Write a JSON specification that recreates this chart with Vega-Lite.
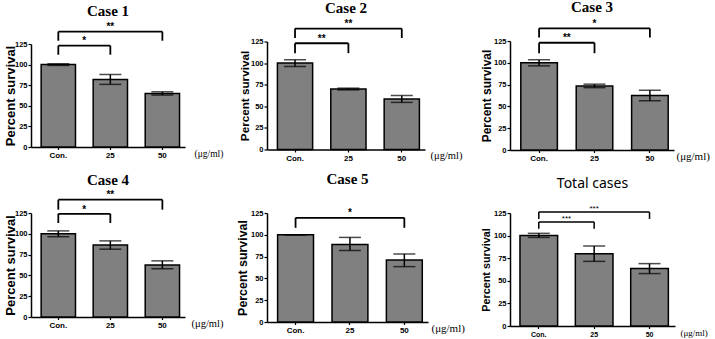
{
  "$schema": "https://vega.github.io/schema/vega-lite/v6.json",
  "background": "white",
  "padding": {"left": 3, "top": 0, "right": 0, "bottom": 0},
  "datasets": {
    "d": [
      {"c": "Case 1", "k": "b", "dose": "Con.", "mean": 100, "lo": 99, "hi": 101},
      {"c": "Case 1", "k": "b", "dose": "25", "mean": 82, "lo": 76, "hi": 88},
      {"c": "Case 1", "k": "b", "dose": "50", "mean": 65, "lo": 63, "hi": 67},
      {"c": "Case 1", "k": "k", "span": "short", "from": "Con.", "to": "25", "m": "25", "y": 123, "leg": 112, "sy": 124.5, "stars": "*"},
      {"c": "Case 1", "k": "k", "span": "long", "from": "Con.", "to": "50", "m": "25", "y": 140, "leg": 129, "sy": 141.5, "stars": "**"},

      {"c": "Case 2", "k": "b", "dose": "Con.", "mean": 100, "lo": 96, "hi": 104},
      {"c": "Case 2", "k": "b", "dose": "25", "mean": 70, "lo": 69, "hi": 71},
      {"c": "Case 2", "k": "b", "dose": "50", "mean": 58.5, "lo": 54.5, "hi": 62.5},
      {"c": "Case 2", "k": "k", "span": "short", "from": "Con.", "to": "25", "m": "25", "y": 123, "leg": 111.5, "sy": 124.5, "stars": "**"},
      {"c": "Case 2", "k": "k", "span": "long", "from": "Con.", "to": "50", "m": "25", "y": 140, "leg": 129, "sy": 141.5, "stars": "**"},

      {"c": "Case 3", "k": "b", "dose": "Con.", "mean": 100, "lo": 96.5, "hi": 103.5},
      {"c": "Case 3", "k": "b", "dose": "25", "mean": 73.5, "lo": 71.5, "hi": 75.5},
      {"c": "Case 3", "k": "b", "dose": "50", "mean": 62.5, "lo": 56.5, "hi": 68.5},
      {"c": "Case 3", "k": "k", "span": "short", "from": "Con.", "to": "25", "m": "25", "y": 123, "leg": 111, "sy": 124.5, "stars": "**"},
      {"c": "Case 3", "k": "k", "span": "long", "from": "Con.", "to": "50", "m": "25", "y": 139.5, "leg": 129, "sy": 141, "stars": "*"},

      {"c": "Case 4", "k": "b", "dose": "Con.", "mean": 100, "lo": 96.5, "hi": 103.5},
      {"c": "Case 4", "k": "b", "dose": "25", "mean": 86.5, "lo": 81.5, "hi": 91.5},
      {"c": "Case 4", "k": "b", "dose": "50", "mean": 62.5, "lo": 58, "hi": 67.5},
      {"c": "Case 4", "k": "k", "span": "short", "from": "Con.", "to": "25", "m": "25", "y": 124, "leg": 113, "sy": 125.5, "stars": "*"},
      {"c": "Case 4", "k": "k", "span": "long", "from": "Con.", "to": "50", "m": "25", "y": 141, "leg": 129, "sy": 142.5, "stars": "**"},

      {"c": "Case 5", "k": "b", "dose": "Con.", "mean": 100, "lo": 100, "hi": 100},
      {"c": "Case 5", "k": "b", "dose": "25", "mean": 89, "lo": 82, "hi": 97},
      {"c": "Case 5", "k": "b", "dose": "50", "mean": 71, "lo": 63.5, "hi": 78},
      {"c": "Case 5", "k": "k", "span": "long", "from": "Con.", "to": "50", "m": "25", "y": 119.5, "leg": 108, "sy": 121, "stars": "*"},

      {"c": "Total cases", "k": "b", "dose": "Con.", "mean": 100, "lo": 98, "hi": 102.5},
      {"c": "Total cases", "k": "b", "dose": "25", "mean": 80, "lo": 71.5, "hi": 88.5},
      {"c": "Total cases", "k": "b", "dose": "50", "mean": 63.5, "lo": 58, "hi": 69},
      {"c": "Total cases", "k": "k", "span": "short", "from": "Con.", "to": "25", "m": "25", "y": 115, "leg": 107.5, "sy": 116.5, "stars": "***"},
      {"c": "Total cases", "k": "k", "span": "long", "from": "Con.", "to": "50", "m": "25", "y": 126, "leg": 118.5, "sy": 127.5, "stars": "***"}
    ]
  },
  "data": {"name": "d"},
  "columns": 3,
  "bounds": "flush",
  "center": true,
  "spacing": {"column": 82, "row": 63},
  "concat": [
    {
      "title": {"text": "Case 1", "offset": 3},
      "width": 154, "height": 103,
      "transform": [{"filter": "datum.c === 'Case 1'"}],
      "layer": [
        {"transform": [{"filter": "datum.k === 'b'"}], "mark": {"type": "bar", "fill": "#808080", "stroke": "black", "strokeWidth": 1.5},
         "encoding": {"x": {"field": "dose", "type": "nominal", "sort": null, "scale": {"domain": ["Con.", "25", "50"], "paddingInner": 0.34, "paddingOuter": 0.15, "align": 0.65}, "axis": {"title": "(μg/ml)", "titleX": 163, "titleFontSize": 9.5}},
                      "y": {"field": "mean", "type": "quantitative", "scale": {"domain": [0, 125], "nice": false}, "axis": {"title": "Percent survival", "titleFontSize": 13, "titleX": -21, "titleBaseline": "middle", "titleAlign": "center", "labelOverlap": false, "tickCount": 10, "values": [0, 25, 50, 75, 100, 125]}}}},
        {"transform": [{"filter": "datum.k === 'b'"}], "mark": {"type": "rule", "strokeWidth": 1.5, "color": "black"}, "encoding": {"x": {"field": "dose", "type": "nominal"}, "y": {"field": "lo", "type": "quantitative"}, "y2": {"field": "hi"}}},
        {"transform": [{"filter": "datum.k === 'b'"}], "mark": {"type": "tick", "size": 22, "thickness": 1.5, "color": "black"}, "encoding": {"x": {"field": "dose", "type": "nominal"}, "y": {"field": "hi", "type": "quantitative"}}},
        {"transform": [{"filter": "datum.k === 'b'"}], "mark": {"type": "tick", "size": 22, "thickness": 1.5, "color": "black"}, "encoding": {"x": {"field": "dose", "type": "nominal"}, "y": {"field": "lo", "type": "quantitative"}}},
        {"transform": [{"filter": "datum.k === 'k'"}], "mark": {"type": "rule", "strokeWidth": 1.8, "color": "black"}, "encoding": {"x": {"field": "from", "type": "nominal", "bandPosition": 0.5}, "x2": {"field": "to", "bandPosition": 0.5}, "y": {"field": "y", "type": "quantitative"}}},
        {"transform": [{"filter": "datum.k === 'k'"}], "mark": {"type": "rule", "strokeWidth": 1.8, "color": "black"}, "encoding": {"x": {"field": "from", "type": "nominal"}, "y": {"field": "leg", "type": "quantitative"}, "y2": {"field": "y"}}},
        {"transform": [{"filter": "datum.k === 'k'"}], "mark": {"type": "rule", "strokeWidth": 1.8, "color": "black"}, "encoding": {"x": {"field": "to", "type": "nominal"}, "y": {"field": "leg", "type": "quantitative"}, "y2": {"field": "y"}}},
        {"transform": [{"filter": "datum.k === 'k' && datum.span === 'long'"}], "mark": {"type": "text", "fontWeight": "bold", "fontSize": 10, "baseline": "alphabetic", "color": "black"}, "encoding": {"x": {"field": "m", "type": "nominal", "bandPosition": 0.5}, "y": {"field": "sy", "type": "quantitative"}, "text": {"field": "stars"}}},
        {"transform": [{"filter": "datum.k === 'k' && datum.span === 'short'"}], "mark": {"type": "text", "fontWeight": "bold", "fontSize": 10, "baseline": "alphabetic", "color": "black"}, "encoding": {"x": {"field": "m", "type": "nominal", "bandPosition": -0.258}, "y": {"field": "sy", "type": "quantitative"}, "text": {"field": "stars"}}}
      ]
    },
    {
      "title": {"text": "Case 2", "offset": 3},
      "width": 158, "height": 108,
      "transform": [{"filter": "datum.c === 'Case 2'"}],
      "layer": [
        {"transform": [{"filter": "datum.k === 'b'"}], "mark": {"type": "bar", "fill": "#808080", "stroke": "black", "strokeWidth": 1.5},
         "encoding": {"x": {"field": "dose", "type": "nominal", "sort": null, "scale": {"domain": ["Con.", "25", "50"], "paddingInner": 0.34, "paddingOuter": 0.15, "align": 0.65}, "axis": {"title": "(μg/ml)", "titleX": 163, "titleFontSize": 10.5}},
                      "y": {"field": "mean", "type": "quantitative", "scale": {"domain": [0, 125], "nice": false}, "axis": {"title": "Percent survival", "titleFontSize": 11.7, "titleX": -22.5, "titleBaseline": "middle", "titleAlign": "center", "labelOverlap": false, "tickCount": 10, "values": [0, 25, 50, 75, 100, 125]}}}},
        {"transform": [{"filter": "datum.k === 'b'"}], "mark": {"type": "rule", "strokeWidth": 1.5, "color": "black"}, "encoding": {"x": {"field": "dose", "type": "nominal"}, "y": {"field": "lo", "type": "quantitative"}, "y2": {"field": "hi"}}},
        {"transform": [{"filter": "datum.k === 'b'"}], "mark": {"type": "tick", "size": 22, "thickness": 1.5, "color": "black"}, "encoding": {"x": {"field": "dose", "type": "nominal"}, "y": {"field": "hi", "type": "quantitative"}}},
        {"transform": [{"filter": "datum.k === 'b'"}], "mark": {"type": "tick", "size": 22, "thickness": 1.5, "color": "black"}, "encoding": {"x": {"field": "dose", "type": "nominal"}, "y": {"field": "lo", "type": "quantitative"}}},
        {"transform": [{"filter": "datum.k === 'k'"}], "mark": {"type": "rule", "strokeWidth": 1.8, "color": "black"}, "encoding": {"x": {"field": "from", "type": "nominal", "bandPosition": 0.5}, "x2": {"field": "to", "bandPosition": 0.5}, "y": {"field": "y", "type": "quantitative"}}},
        {"transform": [{"filter": "datum.k === 'k'"}], "mark": {"type": "rule", "strokeWidth": 1.8, "color": "black"}, "encoding": {"x": {"field": "from", "type": "nominal"}, "y": {"field": "leg", "type": "quantitative"}, "y2": {"field": "y"}}},
        {"transform": [{"filter": "datum.k === 'k'"}], "mark": {"type": "rule", "strokeWidth": 1.8, "color": "black"}, "encoding": {"x": {"field": "to", "type": "nominal"}, "y": {"field": "leg", "type": "quantitative"}, "y2": {"field": "y"}}},
        {"transform": [{"filter": "datum.k === 'k' && datum.span === 'long'"}], "mark": {"type": "text", "fontWeight": "bold", "fontSize": 10, "baseline": "alphabetic", "color": "black"}, "encoding": {"x": {"field": "m", "type": "nominal", "bandPosition": 0.5}, "y": {"field": "sy", "type": "quantitative"}, "text": {"field": "stars"}}},
        {"transform": [{"filter": "datum.k === 'k' && datum.span === 'short'"}], "mark": {"type": "text", "fontWeight": "bold", "fontSize": 10, "baseline": "alphabetic", "color": "black"}, "encoding": {"x": {"field": "m", "type": "nominal", "bandPosition": -0.258}, "y": {"field": "sy", "type": "quantitative"}, "text": {"field": "stars"}}}
      ]
    },
    {
      "title": {"text": "Case 3", "offset": 4},
      "width": 164, "height": 109,
      "transform": [{"filter": "datum.c === 'Case 3'"}],
      "layer": [
        {"transform": [{"filter": "datum.k === 'b'"}], "mark": {"type": "bar", "fill": "#808080", "stroke": "black", "strokeWidth": 1.5},
         "encoding": {"x": {"field": "dose", "type": "nominal", "sort": null, "scale": {"domain": ["Con.", "25", "50"], "paddingInner": 0.34, "paddingOuter": 0.15, "align": 0.65}, "axis": {"title": "(μg/ml)", "titleX": 166, "titleFontSize": 11}},
                      "y": {"field": "mean", "type": "quantitative", "scale": {"domain": [0, 125], "nice": false}, "axis": {"title": "Percent survival", "titleFontSize": 12, "titleX": -24, "titleBaseline": "middle", "titleAlign": "center", "labelOverlap": false, "tickCount": 10, "values": [0, 25, 50, 75, 100, 125]}}}},
        {"transform": [{"filter": "datum.k === 'b'"}], "mark": {"type": "rule", "strokeWidth": 1.5, "color": "black"}, "encoding": {"x": {"field": "dose", "type": "nominal"}, "y": {"field": "lo", "type": "quantitative"}, "y2": {"field": "hi"}}},
        {"transform": [{"filter": "datum.k === 'b'"}], "mark": {"type": "tick", "size": 22, "thickness": 1.5, "color": "black"}, "encoding": {"x": {"field": "dose", "type": "nominal"}, "y": {"field": "hi", "type": "quantitative"}}},
        {"transform": [{"filter": "datum.k === 'b'"}], "mark": {"type": "tick", "size": 22, "thickness": 1.5, "color": "black"}, "encoding": {"x": {"field": "dose", "type": "nominal"}, "y": {"field": "lo", "type": "quantitative"}}},
        {"transform": [{"filter": "datum.k === 'k'"}], "mark": {"type": "rule", "strokeWidth": 1.8, "color": "black"}, "encoding": {"x": {"field": "from", "type": "nominal", "bandPosition": 0.5}, "x2": {"field": "to", "bandPosition": 0.5}, "y": {"field": "y", "type": "quantitative"}}},
        {"transform": [{"filter": "datum.k === 'k'"}], "mark": {"type": "rule", "strokeWidth": 1.8, "color": "black"}, "encoding": {"x": {"field": "from", "type": "nominal"}, "y": {"field": "leg", "type": "quantitative"}, "y2": {"field": "y"}}},
        {"transform": [{"filter": "datum.k === 'k'"}], "mark": {"type": "rule", "strokeWidth": 1.8, "color": "black"}, "encoding": {"x": {"field": "to", "type": "nominal"}, "y": {"field": "leg", "type": "quantitative"}, "y2": {"field": "y"}}},
        {"transform": [{"filter": "datum.k === 'k' && datum.span === 'long'"}], "mark": {"type": "text", "fontWeight": "bold", "fontSize": 10, "baseline": "alphabetic", "color": "black"}, "encoding": {"x": {"field": "m", "type": "nominal", "bandPosition": 0.5}, "y": {"field": "sy", "type": "quantitative"}, "text": {"field": "stars"}}},
        {"transform": [{"filter": "datum.k === 'k' && datum.span === 'short'"}], "mark": {"type": "text", "fontWeight": "bold", "fontSize": 10, "baseline": "alphabetic", "color": "black"}, "encoding": {"x": {"field": "m", "type": "nominal", "bandPosition": -0.258}, "y": {"field": "sy", "type": "quantitative"}, "text": {"field": "stars"}}}
      ]
    },
    {
      "title": {"text": "Case 4", "offset": 2},
      "width": 154, "height": 104,
      "transform": [{"filter": "datum.c === 'Case 4'"}],
      "layer": [
        {"transform": [{"filter": "datum.k === 'b'"}], "mark": {"type": "bar", "fill": "#808080", "stroke": "black", "strokeWidth": 1.5},
         "encoding": {"x": {"field": "dose", "type": "nominal", "sort": null, "scale": {"domain": ["Con.", "25", "50"], "paddingInner": 0.34, "paddingOuter": 0.15, "align": 0.65}, "axis": {"title": "(μg/ml)", "titleX": 160, "titleFontSize": 10.5}},
                      "y": {"field": "mean", "type": "quantitative", "scale": {"domain": [0, 125], "nice": false}, "axis": {"title": "Percent survival", "titleFontSize": 13, "titleX": -21, "titleBaseline": "middle", "titleAlign": "center", "labelOverlap": false, "tickCount": 10, "values": [0, 25, 50, 75, 100, 125]}}}},
        {"transform": [{"filter": "datum.k === 'b'"}], "mark": {"type": "rule", "strokeWidth": 1.5, "color": "black"}, "encoding": {"x": {"field": "dose", "type": "nominal"}, "y": {"field": "lo", "type": "quantitative"}, "y2": {"field": "hi"}}},
        {"transform": [{"filter": "datum.k === 'b'"}], "mark": {"type": "tick", "size": 22, "thickness": 1.5, "color": "black"}, "encoding": {"x": {"field": "dose", "type": "nominal"}, "y": {"field": "hi", "type": "quantitative"}}},
        {"transform": [{"filter": "datum.k === 'b'"}], "mark": {"type": "tick", "size": 22, "thickness": 1.5, "color": "black"}, "encoding": {"x": {"field": "dose", "type": "nominal"}, "y": {"field": "lo", "type": "quantitative"}}},
        {"transform": [{"filter": "datum.k === 'k'"}], "mark": {"type": "rule", "strokeWidth": 1.8, "color": "black"}, "encoding": {"x": {"field": "from", "type": "nominal", "bandPosition": 0.5}, "x2": {"field": "to", "bandPosition": 0.5}, "y": {"field": "y", "type": "quantitative"}}},
        {"transform": [{"filter": "datum.k === 'k'"}], "mark": {"type": "rule", "strokeWidth": 1.8, "color": "black"}, "encoding": {"x": {"field": "from", "type": "nominal"}, "y": {"field": "leg", "type": "quantitative"}, "y2": {"field": "y"}}},
        {"transform": [{"filter": "datum.k === 'k'"}], "mark": {"type": "rule", "strokeWidth": 1.8, "color": "black"}, "encoding": {"x": {"field": "to", "type": "nominal"}, "y": {"field": "leg", "type": "quantitative"}, "y2": {"field": "y"}}},
        {"transform": [{"filter": "datum.k === 'k' && datum.span === 'long'"}], "mark": {"type": "text", "fontWeight": "bold", "fontSize": 10, "baseline": "alphabetic", "color": "black"}, "encoding": {"x": {"field": "m", "type": "nominal", "bandPosition": 0.5}, "y": {"field": "sy", "type": "quantitative"}, "text": {"field": "stars"}}},
        {"transform": [{"filter": "datum.k === 'k' && datum.span === 'short'"}], "mark": {"type": "text", "fontWeight": "bold", "fontSize": 10, "baseline": "alphabetic", "color": "black"}, "encoding": {"x": {"field": "m", "type": "nominal", "bandPosition": -0.258}, "y": {"field": "sy", "type": "quantitative"}, "text": {"field": "stars"}}}
      ]
    },
    {
      "title": {"text": "Case 5", "offset": 21.5},
      "width": 161, "height": 109,
      "transform": [{"filter": "datum.c === 'Case 5'"}],
      "layer": [
        {"transform": [{"filter": "datum.k === 'b'"}], "mark": {"type": "bar", "fill": "#808080", "stroke": "black", "strokeWidth": 1.5},
         "encoding": {"x": {"field": "dose", "type": "nominal", "sort": null, "scale": {"domain": ["Con.", "25", "50"], "paddingInner": 0.34, "paddingOuter": 0.15, "align": 0.65}, "axis": {"title": "(μg/ml)", "titleX": 164, "titleFontSize": 11}},
                      "y": {"field": "mean", "type": "quantitative", "scale": {"domain": [0, 125], "nice": false}, "axis": {"title": "Percent survival", "titleFontSize": 12.4, "titleX": -25, "titleBaseline": "middle", "titleAlign": "center", "labelOverlap": false, "tickCount": 10, "values": [0, 25, 50, 75, 100, 125]}}}},
        {"transform": [{"filter": "datum.k === 'b'"}], "mark": {"type": "rule", "strokeWidth": 1.5, "color": "black"}, "encoding": {"x": {"field": "dose", "type": "nominal"}, "y": {"field": "lo", "type": "quantitative"}, "y2": {"field": "hi"}}},
        {"transform": [{"filter": "datum.k === 'b'"}], "mark": {"type": "tick", "size": 22, "thickness": 1.5, "color": "black"}, "encoding": {"x": {"field": "dose", "type": "nominal"}, "y": {"field": "hi", "type": "quantitative"}}},
        {"transform": [{"filter": "datum.k === 'b'"}], "mark": {"type": "tick", "size": 22, "thickness": 1.5, "color": "black"}, "encoding": {"x": {"field": "dose", "type": "nominal"}, "y": {"field": "lo", "type": "quantitative"}}},
        {"transform": [{"filter": "datum.k === 'k'"}], "mark": {"type": "rule", "strokeWidth": 1.8, "color": "black"}, "encoding": {"x": {"field": "from", "type": "nominal", "bandPosition": 0.5}, "x2": {"field": "to", "bandPosition": 0.5}, "y": {"field": "y", "type": "quantitative"}}},
        {"transform": [{"filter": "datum.k === 'k'"}], "mark": {"type": "rule", "strokeWidth": 1.8, "color": "black"}, "encoding": {"x": {"field": "from", "type": "nominal"}, "y": {"field": "leg", "type": "quantitative"}, "y2": {"field": "y"}}},
        {"transform": [{"filter": "datum.k === 'k'"}], "mark": {"type": "rule", "strokeWidth": 1.8, "color": "black"}, "encoding": {"x": {"field": "to", "type": "nominal"}, "y": {"field": "leg", "type": "quantitative"}, "y2": {"field": "y"}}},
        {"transform": [{"filter": "datum.k === 'k' && datum.span === 'long'"}], "mark": {"type": "text", "fontWeight": "bold", "fontSize": 10, "baseline": "alphabetic", "color": "black"}, "encoding": {"x": {"field": "m", "type": "nominal", "bandPosition": 0.5}, "y": {"field": "sy", "type": "quantitative"}, "text": {"field": "stars"}}}
      ]
    },
    {
      "title": {"text": "Total cases", "offset": 13.5, "font": "Noto Sans", "fontWeight": "normal", "fontSize": 14},
      "width": 165, "height": 113,
      "transform": [{"filter": "datum.c === 'Total cases'"}],
      "layer": [
        {"transform": [{"filter": "datum.k === 'b'"}], "mark": {"type": "bar", "fill": "#808080", "stroke": "black", "strokeWidth": 1.5},
         "encoding": {"x": {"field": "dose", "type": "nominal", "sort": null, "scale": {"domain": ["Con.", "25", "50"], "paddingInner": 0.32, "paddingOuter": 0.15, "align": 0.6}, "axis": {"title": "(μg/ml)", "titleX": 170, "titleFontSize": 9, "labelFontSize": 7}},
                      "y": {"field": "mean", "type": "quantitative", "scale": {"domain": [0, 125], "nice": false}, "axis": {"title": "Percent survival", "titleFontSize": 10.8, "titleX": -24, "titleBaseline": "middle", "titleAlign": "center", "labelOverlap": false, "tickCount": 10, "values": [0, 25, 50, 75, 100, 125]}}}},
        {"transform": [{"filter": "datum.k === 'b'"}], "mark": {"type": "rule", "strokeWidth": 1.5, "color": "black"}, "encoding": {"x": {"field": "dose", "type": "nominal"}, "y": {"field": "lo", "type": "quantitative"}, "y2": {"field": "hi"}}},
        {"transform": [{"filter": "datum.k === 'b'"}], "mark": {"type": "tick", "size": 22, "thickness": 1.5, "color": "black"}, "encoding": {"x": {"field": "dose", "type": "nominal"}, "y": {"field": "hi", "type": "quantitative"}}},
        {"transform": [{"filter": "datum.k === 'b'"}], "mark": {"type": "tick", "size": 22, "thickness": 1.5, "color": "black"}, "encoding": {"x": {"field": "dose", "type": "nominal"}, "y": {"field": "lo", "type": "quantitative"}}},
        {"transform": [{"filter": "datum.k === 'k'"}], "mark": {"type": "rule", "strokeWidth": 1.5, "color": "black"}, "encoding": {"x": {"field": "from", "type": "nominal", "bandPosition": 0.5}, "x2": {"field": "to", "bandPosition": 0.5}, "y": {"field": "y", "type": "quantitative"}}},
        {"transform": [{"filter": "datum.k === 'k'"}], "mark": {"type": "rule", "strokeWidth": 1.5, "color": "black"}, "encoding": {"x": {"field": "from", "type": "nominal"}, "y": {"field": "leg", "type": "quantitative"}, "y2": {"field": "y"}}},
        {"transform": [{"filter": "datum.k === 'k'"}], "mark": {"type": "rule", "strokeWidth": 1.5, "color": "black"}, "encoding": {"x": {"field": "to", "type": "nominal"}, "y": {"field": "leg", "type": "quantitative"}, "y2": {"field": "y"}}},
        {"transform": [{"filter": "datum.k === 'k' && datum.span === 'long'"}], "mark": {"type": "text", "fontSize": 8, "baseline": "alphabetic", "color": "black"}, "encoding": {"x": {"field": "m", "type": "nominal", "bandPosition": 0.5}, "y": {"field": "sy", "type": "quantitative"}, "text": {"field": "stars"}}},
        {"transform": [{"filter": "datum.k === 'k' && datum.span === 'short'"}], "mark": {"type": "text", "fontSize": 8, "baseline": "alphabetic", "color": "black"}, "encoding": {"x": {"field": "m", "type": "nominal", "bandPosition": -0.235}, "y": {"field": "sy", "type": "quantitative"}, "text": {"field": "stars"}}}
      ]
    }
  ],
  "config": {
    "view": {"stroke": null},
    "font": "Liberation Sans",
    "title": {"font": "Liberation Serif", "fontWeight": "bold", "fontSize": 15, "color": "black", "anchor": "middle"},
    "axis": {"grid": false, "domainColor": "black", "domainWidth": 1.5, "tickColor": "black", "tickWidth": 1.2, "labelColor": "black", "labelFont": "Liberation Sans", "labelFontWeight": "bold", "labelFontSize": 8, "titleColor": "black"},
    "axisY": {"tickSize": 3, "labelPadding": 1, "labelFontSize": 7.5, "titleFont": "Liberation Sans", "titleFontWeight": "bold", "titleAngle": -90},
    "axisX": {"tickSize": 2.5, "labelPadding": 2, "labelAngle": 0, "titleFont": "Liberation Serif", "titleFontWeight": "normal", "titleAngle": 0, "titleAlign": "left", "titleBaseline": "middle", "titleY": 6}
  }
}
